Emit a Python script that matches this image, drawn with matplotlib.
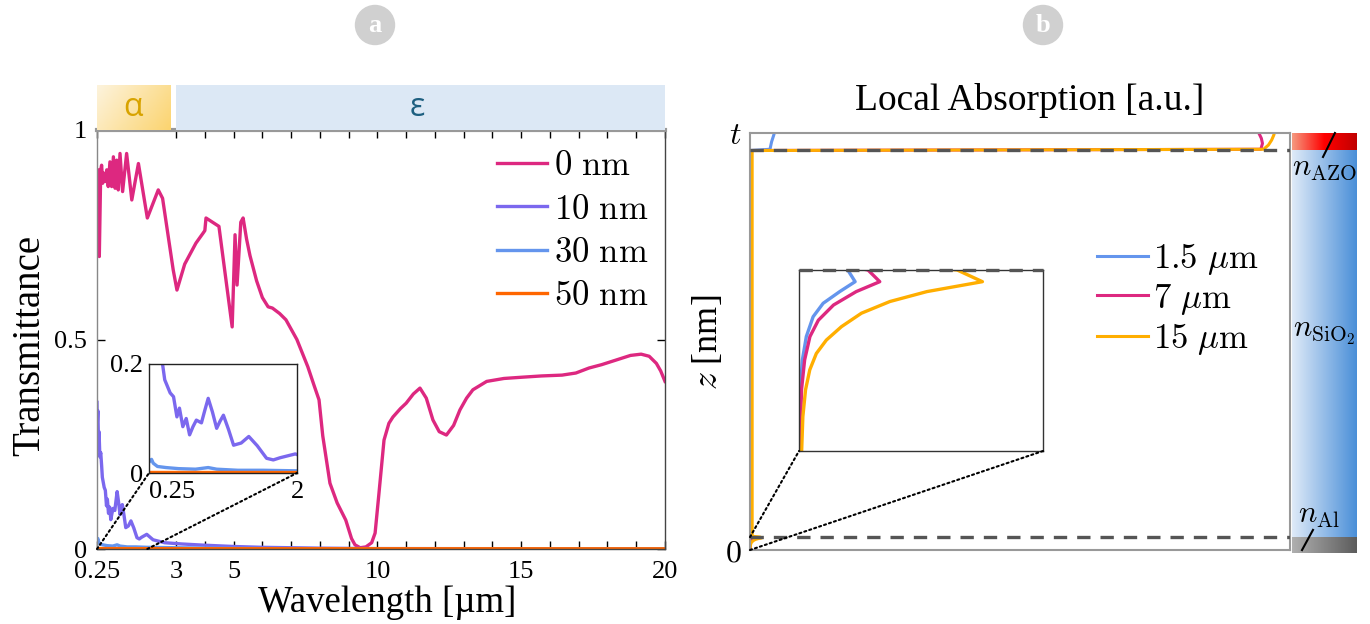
import numpy as np
import matplotlib
matplotlib.use('Agg')
import matplotlib.pyplot as plt
from matplotlib.colors import LinearSegmentedColormap
from matplotlib.patches import ConnectionPatch, Rectangle

plt.rcParams['font.family'] = 'serif'
plt.rcParams['font.serif'] = ['Liberation Serif']
plt.rcParams['mathtext.fontset'] = 'cm'

# ---- (a) transmittance vs wavelength, for several AZO thicknesses ----
wl_0nm = [0.25, 0.295, 0.33, 0.38, 0.41, 0.45, 0.49, 0.54, 0.59, 0.64, 0.70, 0.76, 0.82,
          0.88, 0.935, 0.99, 1.05, 1.14, 1.28, 1.46, 1.69, 2.0, 2.38, 2.53, 2.9, 3.03,
          3.3, 3.69, 3.94, 4.0, 4.04, 4.49, 4.7, 4.95, 5.05, 5.12, 5.25, 5.33, 5.45,
          5.57, 5.8, 6.0, 6.2, 6.35, 6.6, 6.82, 7.2, 7.58, 7.8, 7.97, 8.1, 8.35, 8.6,
          8.9, 9.1, 9.22, 9.4, 9.6, 9.8, 9.92, 10.05, 10.23, 10.4, 10.54, 10.8, 11.0,
          11.25, 11.48, 11.7, 11.93, 12.15, 12.4, 12.65, 12.87, 13.1, 13.32, 13.8,
          14.4, 15.03, 15.7, 16.42, 16.9, 17.36, 17.8, 18.3, 18.8, 19.17, 19.45, 19.7,
          19.85, 20.0]
T_0nm = [0.90, 0.905, 0.698, 0.905, 0.916, 0.873, 0.897, 0.877, 0.905, 0.865, 0.924,
         0.865, 0.936, 0.861, 0.928, 0.857, 0.944, 0.853, 0.944, 0.833, 0.920, 0.79,
         0.857, 0.837, 0.666, 0.618, 0.68, 0.73, 0.754, 0.76, 0.79, 0.77, 0.66, 0.53,
         0.75, 0.63, 0.78, 0.79, 0.74, 0.70, 0.64, 0.60, 0.578, 0.575, 0.562, 0.547,
         0.50, 0.435, 0.39, 0.356, 0.27, 0.157, 0.11, 0.069, 0.025, 0.01, 0.003, 0.005,
         0.015, 0.038, 0.13, 0.26, 0.30, 0.315, 0.335, 0.348, 0.37, 0.384, 0.36, 0.308,
         0.28, 0.272, 0.295, 0.332, 0.36, 0.38, 0.40, 0.407, 0.41, 0.413, 0.415, 0.42,
         0.432, 0.44, 0.451, 0.462, 0.465, 0.46, 0.443, 0.425, 0.40]

wl_10nm = [0.25, 0.26, 0.28, 0.30, 0.32, 0.35, 0.38, 0.41, 0.436, 0.50, 0.54, 0.58,
           0.61, 0.65, 0.69, 0.73, 0.77, 0.81, 0.87, 0.91, 0.95, 1.0, 1.05, 1.09, 1.13,
           1.19, 1.25, 1.34, 1.43, 1.53, 1.64, 1.72, 1.80, 1.98, 2.2, 2.6, 3.2, 4.0,
           5.0, 6.0, 8.0, 10.0, 20.0]
T_10nm = [0.35, 0.30, 0.33, 0.26, 0.28, 0.22, 0.23, 0.20, 0.171, 0.147, 0.14, 0.103,
          0.119, 0.085, 0.10, 0.07, 0.085, 0.097, 0.092, 0.115, 0.137, 0.112, 0.082,
          0.095, 0.106, 0.08, 0.051, 0.055, 0.067, 0.05, 0.027, 0.024, 0.028, 0.035,
          0.022, 0.015, 0.012, 0.009, 0.006, 0.004, 0.002, 0.001, 0.0005]

wl_30nm = [0.25, 0.28, 0.30, 0.35, 0.45, 0.6, 0.8, 0.95, 1.05, 1.3, 1.6, 2.0, 3.0,
           5.0, 8.0, 20.0]
T_30nm = [0.020, 0.025, 0.018, 0.012, 0.010, 0.008, 0.007, 0.010, 0.007, 0.005, 0.005,
          0.004, 0.003, 0.0015, 0.0008, 0.0005]

wl_50nm = [0.25, 2.0, 20.0]
T_50nm = [0.001, 0.0008, 0.0005]

thick_labels = [r'$\mathrm{0\ nm}$', r'$\mathrm{10\ nm}$', r'$\mathrm{30\ nm}$',
                r'$\mathrm{50\ nm}$']
thick_colors = ['#dd2880', '#7b68ee', '#6495ed', '#ff6600']

wl_ticks = [0.25] + list(range(3, 21))
wl_ticklabels = ['0.25', '3', '', '5', '', '', '', '', '10', '', '', '', '', '15',
                 '', '', '', '', '20']

# ---- (b) local absorption profile through Al / SiO2 / AZO stack ----
z_al_top = 0.031
z_azo_bot = 0.959

z_1p5 = [0.0002, 0.0105, 0.0156, 0.0196, 0.0230, 0.0253, 0.0273, 0.0290, 0.031,
         0.033, 0.5, 0.958, 0.961, 0.979, 0.995, 1.0]
A_1p5 = [0.0, 0.00016, 0.0004, 0.00087, 0.00168, 0.00287, 0.00484, 0.00667, 0.0058,
         0.0005, 0.0005, 0.0006, 0.037, 0.040, 0.044, 0.045]

z_7 = [0.0002, 0.0105, 0.0156, 0.0196, 0.0224, 0.0250, 0.0273, 0.0290, 0.031,
       0.033, 0.5, 0.958, 0.961, 0.975, 0.987, 0.998, 1.0]
A_7 = [0.0001, 0.0003, 0.00067, 0.0013, 0.0023, 0.0041, 0.0068, 0.0096, 0.0082,
       0.001, 0.001, 0.001, 0.946, 0.949, 0.947, 0.943, 0.942]

z_15 = [0.0002, 0.0059, 0.0105, 0.0139, 0.0167, 0.0190, 0.0213, 0.0236, 0.0256,
        0.0273, 0.0290, 0.031, 0.033, 0.5, 0.958, 0.961, 0.971, 0.983, 0.995, 1.0]
A_15 = [0.00032, 0.00046, 0.00078, 0.00128, 0.00206, 0.00325, 0.00505, 0.00742,
        0.0108, 0.0152, 0.0218, 0.0188, 0.004, 0.004, 0.004, 0.951, 0.960, 0.966,
        0.970, 0.971]

wl_labels = [r'$1.5\ \mu\mathrm{m}$', r'$7\ \mu\mathrm{m}$', r'$15\ \mu\mathrm{m}$']
wl_colors = ['#6495ed', '#dd2880', '#ffae00']

W, H = 1370, 624
fig = plt.figure(figsize=(W / 100, H / 100), dpi=100)


def px_axes(x0, y0, x1, y1):
    return fig.add_axes([x0 / W, 1 - y1 / H, (x1 - x0) / W, (y1 - y0) / H])


def badge(x, y, s):
    fig.text(x / W, 1 - y / H, s, ha='center', va='center', color='white',
             fontsize=19, fontweight='bold',
             bbox=dict(boxstyle='circle,pad=0.33', fc='#d0d0d0', ec='none'))


# panel a
ax = px_axes(97, 130, 665, 549)
for wl, T, lab, c in zip([wl_0nm, wl_10nm, wl_30nm, wl_50nm],
                         [T_0nm, T_10nm, T_30nm, T_50nm], thick_labels, thick_colors):
    ax.plot(wl, T, color=c, lw=2.4, label=lab, solid_joinstyle='round')
ax.set_xlim(0.25, 20)
ax.set_ylim(0, 1)
ax.set_xticks(wl_ticks)
ax.set_xticklabels(wl_ticklabels)
ax.set_yticks([0, 0.5, 1])
ax.set_yticklabels(['0', '0.5', '1'])
ax.tick_params(direction='in', top=True, right=True, length=6, width=1,
               labelsize=19)
ax.tick_params(axis='x', pad=9)
ax.tick_params(axis='y', pad=7)
for s in ax.spines.values():
    s.set_color('#444')
    s.set_linewidth(1)
ax.spines['left'].set_color('#888')
ax.spines['top'].set_color('#999')
ax.spines['top'].set_linewidth(3)
ax.legend(loc='upper left', bbox_to_anchor=(0.704, 0.952), frameon=False, fontsize=25,
          handlelength=1.45, handletextpad=0.2, labelspacing=0.3, borderpad=0,
          borderaxespad=0)

fig.text(30 / W, 1 - 345 / H, 'Transmittance', rotation=90, ha='center',
         va='center', fontsize=28)
fig.text(387 / W, 1 - 603 / H, 'Wavelength [µm]', ha='center', va='center',
         fontsize=26.5)

# spectral band strip above panel a
band = px_axes(97, 85, 665, 130)
gx, gy = np.meshgrid(np.linspace(0, 1, 64), np.linspace(0, 1, 16))
alpha_cmap = LinearSegmentedColormap.from_list('alpha_band', ['#fdf3dc', '#fbd470'])
band.imshow(0.7 * gx + 0.3 * (1 - gy), extent=(0.25, 2.8, 0, 1), aspect='auto',
            origin='lower', cmap=alpha_cmap)
band.add_patch(Rectangle((3.0, 0), 17.0, 1, fc='#dce8f5', ec='none'))
band.set_xlim(0.25, 20)
band.set_ylim(0, 1)
band.axis('off')
band.text(1.5, 0.5, 'α', ha='center', va='center', color='#d8a300', fontsize=23,
          family='Open Sans')
band.text(11.4, 0.5, 'ε', ha='center', va='center', color='#1d5f80', fontsize=23,
          family='Open Sans')

# zoom of the UV/visible range
ins = px_axes(149, 364, 297, 473)
for wl, T, c in zip([wl_0nm, wl_10nm, wl_30nm, wl_50nm],
                    [T_0nm, T_10nm, T_30nm, T_50nm], thick_colors):
    ins.plot(wl, T, color=c, lw=2.4, solid_joinstyle='round')
ins.set_xlim(0.25, 2)
ins.set_ylim(0, 0.2)
ins.set_xticks([0.25, 2])
ins.set_xticklabels(['0.25', '2'])
ins.get_xticklabels()[0].set_horizontalalignment('left')
ins.set_yticks([0, 0.2])
ins.set_yticklabels(['0', '0.2'])
ins.tick_params(length=0, labelsize=19, pad=4)
ins.tick_params(axis='x', pad=6)
for s in ins.spines.values():
    s.set_color('#222')
    s.set_linewidth(1)
for xa, xb in [(0.25, 0), (2.0, 1)]:
    fig.add_artist(ConnectionPatch(xyA=(xa, 0), coordsA='data', axesA=ax,
                                   xyB=(xb, 0), coordsB='axes fraction', axesB=ins,
                                   ls=(0, (1, 1.5)), lw=1.5, color='black'))

badge(375, 25, 'a')
badge(1043, 25, 'b')

# panel b
axr = px_axes(750, 133, 1290, 550)
for z, A, lab, c in zip([z_1p5, z_7, z_15], [A_1p5, A_7, A_15], wl_labels, wl_colors):
    axr.plot(A, z, color=c, lw=2.2, label=lab)
axr.axhline(z_azo_bot, color='#555', lw=2.4, ls=(0, (4, 3)), zorder=5)
axr.axhline(z_al_top, color='#555', lw=2.4, ls=(0, (4, 3)), zorder=5)
axr.set_xlim(0, 1)
axr.set_ylim(0, 1)
axr.set_xticks([])
axr.set_yticks([0, 1])
axr.set_yticklabels([r'$0$', r'$t$'])
axr.tick_params(length=0, labelsize=23, pad=6)
for s in axr.spines.values():
    s.set_color('#999')
    s.set_linewidth(1.5)
axr.legend(loc='upper left', bbox_to_anchor=(0.643, 0.741), frameon=False, fontsize=25,
           handlelength=1.45, handletextpad=0.15, labelspacing=0.13, borderpad=0,
           borderaxespad=0)
fig.text(1030 / W, 1 - 100 / H, 'Local Absorption [a.u.]', ha='center', va='center',
         fontsize=27)
fig.text(708 / W, 1 - 342 / H, r'$z$ [nm]', rotation=90, ha='center', va='center',
         fontsize=26)

# zoom into the aluminium layer
insr = px_axes(799, 270, 1043, 451)
for z, A, c in zip([z_1p5, z_7, z_15], [A_1p5, A_7, A_15], wl_colors):
    insr.plot(A, z, color=c, lw=2.4, solid_joinstyle='round')
insr.axhline(z_al_top, color='#555', lw=2.4, ls=(0, (4, 3)), zorder=5, clip_on=False)
insr.set_xlim(0, 0.029)
insr.set_ylim(0, z_al_top)
insr.set_xticks([])
insr.set_yticks([])
for s in insr.spines.values():
    s.set_color('#333')
    s.set_linewidth(1)
for ya, xb in [(z_al_top, 0), (0, 1)]:
    fig.add_artist(ConnectionPatch(xyA=(0, ya), coordsA='data', axesA=axr,
                                   xyB=(xb, 0), coordsB='axes fraction', axesB=insr,
                                   ls=(0, (1, 1.5)), lw=1.5, color='black'))

# refractive-index strip for the layer stack
strip = px_axes(1292, 133, 1357, 553)
ramp = np.linspace(0, 1, 256)[None, :]
layers = [(0.0, 0.038, ['#b0b0b0', '#5c5c5c']),
          (0.038, 0.96, ['#dfeaf8', '#4a8fd8']),
          (0.96, 1.0, ['#f59a80', '#ff0000', '#c00000'])]
for y0, y1, cols in layers:
    strip.imshow(ramp, extent=(0, 1, y0, y1), aspect='auto', origin='lower',
                 cmap=LinearSegmentedColormap.from_list('layer', cols))
strip.set_xlim(0, 1)
strip.set_ylim(0, 1)
strip.axis('off')
strip.plot([0.477, 0.66], [0.943, 1.0], color='black', lw=1.5, clip_on=False)
strip.plot([0.154, 0.323], [0.007, 0.055], color='black', lw=1.5, clip_on=False)
strip.text(0.5, 0.917, r'$n_{\mathrm{AZO}}$', ha='center', va='center', fontsize=22)
strip.text(0.5, 0.524, r'$n_{\mathrm{SiO}_2}$', ha='center', va='center', fontsize=22)
strip.text(0.41, 0.09, r'$n_{\mathrm{Al}}$', ha='center', va='center', fontsize=22)

fig.savefig('out.png', dpi=100)
